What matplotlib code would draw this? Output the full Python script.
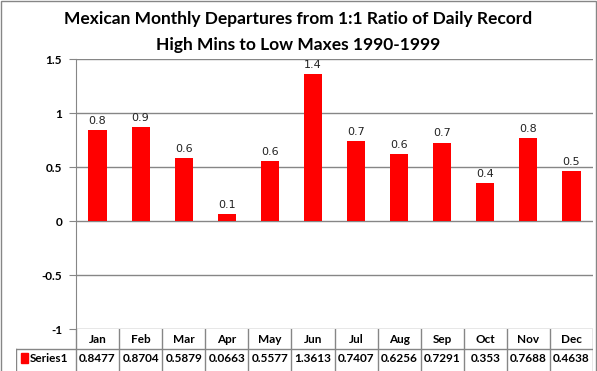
import numpy as np
import matplotlib
matplotlib.use("Agg")
import matplotlib.pyplot as plt
from matplotlib.patches import Rectangle

months = ["Jan", "Feb", "Mar", "Apr", "May", "Jun", "Jul", "Aug", "Sep", "Oct", "Nov", "Dec"]
values = [0.8477, 0.8704, 0.5879, 0.0663, 0.5577, 1.3613, 0.7407, 0.6256, 0.7291, 0.353, 0.7688, 0.4638]
value_text = ["0.8477", "0.8704", "0.5879", "0.0663", "0.5577", "1.3613", "0.7407", "0.6256", "0.7291", "0.353", "0.7688", "0.4638"]
series_name = "Series1"
yticks = [-1, -0.5, 0, 0.5, 1, 1.5]

W, H = 597, 371
GRAY = "#868686"
BOLD = "Lato"
plt.rcParams.update({"font.family": "DejaVu Sans"})

fig = plt.figure(figsize=(W / 100, H / 100), dpi=100)
px = lambda x: x / W
py = lambda y: 1 - y / H

# plot area in pixels
x0, x1, ytop, ybot = 76, 593, 59.3, 329.3
ax = fig.add_axes([px(x0), py(ybot), px(x1 - x0), (ybot - ytop) / H])
x = np.arange(len(months))
ax.bar(x, values, width=0.42, color="#FF0000", zorder=3)
for xi, v in zip(x, values):
    ax.annotate(f"{v:.1f}", (xi, v), xytext=(0, 3), textcoords="offset points",
                ha="center", va="bottom", fontsize=8, color="#222222")
ax.set_xlim(-0.5, len(months) - 0.5)
ax.set_ylim(-1, 1.5)
ax.set_yticks(yticks)
ax.set_yticklabels([f"{t:g}" for t in yticks], fontfamily=BOLD, fontweight="bold", fontsize=8.5)
ax.set_xticks([])
ax.grid(axis="y", color=GRAY, lw=1, zorder=0)
for s in ["top", "right", "bottom"]:
    ax.spines[s].set_visible(False)
ax.spines["left"].set_color(GRAY)
ax.tick_params(axis="y", length=5, color=GRAY, pad=5)

# data table under the plot
lab_w = (x0 - 16) / ((x1 - x0) / 12)
tax = fig.add_axes([px(16), 0, px(x1 - 16), (H - ybot) / H])
tax.set_xlim(-0.5 - lab_w, len(months) - 0.5)
tax.set_ylim((H - ybot) / 20, 0)
tax.axis("off")
for i in range(len(months) + 1):
    tax.plot([i - 0.5, i - 0.5], [0, 3], color=GRAY, lw=1)
tax.plot([-0.5 - lab_w, -0.5 - lab_w], [1, 3], color=GRAY, lw=1)
tax.plot([-0.5 - lab_w, len(months) - 0.5], [1, 1], color=GRAY, lw=1)
for i, (m, t) in enumerate(zip(months, value_text)):
    tax.text(i, 0.5, m, ha="center", va="center", fontfamily=BOLD, fontweight="bold", fontsize=8.5)
    tax.text(i, 1.45, t, ha="center", va="center", fontfamily=BOLD, fontweight="bold", fontsize=8.5)
tax.add_patch(Rectangle((-0.5 - lab_w + 0.12, 1.2), 0.15, 0.5, color="#FF0000"))
tax.text(-0.5 - lab_w + 0.32, 1.45, series_name, ha="left", va="center",
         fontfamily=BOLD, fontweight="bold", fontsize=8.5)

fig.text(px(298), py(19), "Mexican Monthly Departures from 1:1 Ratio of Daily Record",
         ha="center", va="center", fontfamily=BOLD, fontweight="bold", fontsize=12.5)
fig.text(px(298), py(45), "High Mins to Low Maxes 1990-1999",
         ha="center", va="center", fontfamily=BOLD, fontweight="bold", fontsize=12.5)

fig.add_artist(Rectangle((px(0.5), py(H + 5)), px(595), (H + 3.5) / H,
                         fill=False, edgecolor=GRAY, lw=1, transform=fig.transFigure))

fig.savefig("out.png", dpi=100)
